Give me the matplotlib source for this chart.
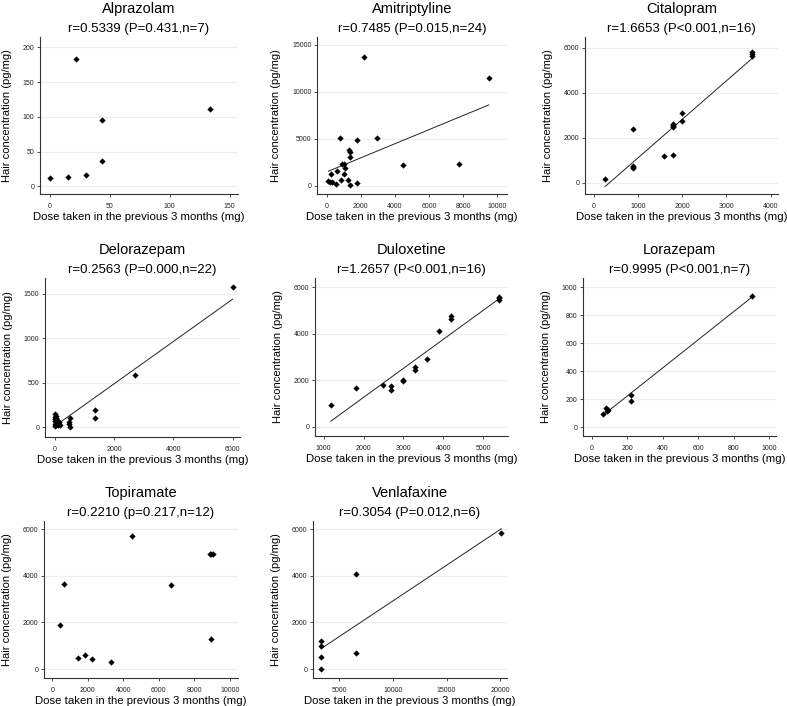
import numpy as np
import matplotlib
matplotlib.use("Agg")
import matplotlib.pyplot as plt

plt.rcParams['font.family'] = ['Liberation Sans', 'DejaVu Sans']

# ---------------- data ----------------
drugs = ["Alprazolam", "Amitriptyline", "Citalopram", "Delorazepam",
         "Duloxetine", "Lorazepam", "Topiramate", "Venlafaxine"]
subtitles = ["r=0.5339 (P=0.431,n=7)", "r=0.7485 (P=0.015,n=24)",
             "r=1.6653 (P<0.001,n=16)", "r=0.2563 (P=0.000,n=22)",
             "r=1.2657 (P<0.001,n=16)", "r=0.9995 (P<0.001,n=7)",
             "r=0.2210 (p=0.217,n=12)", "r=0.3054 (P=0.012,n=6)"]

alprazolam_dose = [0, 15, 22, 30, 44, 44, 134]
alprazolam_conc = [12, 14, 184, 16, 95, 36, 112]

amitriptyline_dose = [2180, 9500, 750, 2970, 1800, 1330, 1360, 1370, 900, 1000,
                      620, 250, 1000, 840, 1230, 100, 200, 300, 550, 1370,
                      1760, 4450, 7730, 1050]
amitriptyline_conc = [13650, 11420, 5100, 5100, 4850, 3800, 3550, 3000, 2250, 2250,
                      1600, 1280, 1250, 620, 620, 440, 370, 420, 150, 70,
                      260, 2190, 2300, 1850]

citalopram_dose = [3580, 3580, 3580, 1990, 1990, 1800, 1800, 1800, 1800,
                   1600, 1800, 890, 890, 890, 890, 260]
citalopram_conc = [5800, 5720, 5640, 3100, 2740, 2630, 2580, 2520, 2460,
                   1180, 1220, 2380, 740, 700, 660, 170]

delorazepam_dose = [6000, 2700, 1340, 1340, 500, 500, 480, 460, 0, 0, 0,
                    0, 0, 0, 30, 60, 110, 170, 40, 20, 90, 130]
delorazepam_conc = [1580, 585, 190, 105, 100, 0, 60, 40, 150, 120, 95,
                    65, 40, 10, 130, 80, 50, 25, 100, 20, 30, 60]

duloxetine_dose = [1180, 1800, 2490, 2700, 2700, 3000, 3000, 3300, 3300,
                   3600, 3900, 4200, 4200, 5400, 5400, 5400]
duloxetine_conc = [930, 1680, 1800, 1770, 1570, 2000, 1960, 2580, 2460,
                   2900, 4130, 4750, 4640, 5600, 5520, 5460]

lorazepam_dose = [900, 220, 220, 80, 88, 62, 84]
lorazepam_conc = [940, 230, 190, 135, 125, 95, 115]

topiramate_dose = [410, 680, 1470, 1840, 2240, 3330, 4480, 6700, 8900, 8950, 9050, 8960]
topiramate_conc = [1890, 3650, 470, 600, 440, 310, 5700, 3620, 4950, 4950, 4950, 1300]

venlafaxine_dose = [3300, 3300, 3300, 3300, 6600, 6600, 20100]
venlafaxine_conc = [1200, 1010, 500, 10, 4060, 680, 5830]

doses = [alprazolam_dose, amitriptyline_dose, citalopram_dose, delorazepam_dose,
         duloxetine_dose, lorazepam_dose, topiramate_dose, venlafaxine_dose]
concs = [alprazolam_conc, amitriptyline_conc, citalopram_conc, delorazepam_conc,
         duloxetine_conc, lorazepam_conc, topiramate_conc, venlafaxine_conc]
has_fit = [False, True, True, True, True, True, False, True]

x_ticks = [[0, 50, 100, 150], list(range(0, 10001, 2000)), list(range(0, 4001, 1000)),
           [0, 2000, 4000, 6000], list(range(1000, 5001, 1000)), list(range(0, 1001, 200)),
           list(range(0, 10001, 2000)), [5000, 10000, 15000, 20000]]
y_ticks = [[0, 50, 100, 150, 200], [0, 5000, 10000, 15000], [0, 2000, 4000, 6000],
           [0, 500, 1000, 1500], [0, 2000, 4000, 6000], list(range(0, 1001, 200)),
           [0, 2000, 4000, 6000], [0, 2000, 4000, 6000]]

# ---------------- layout ----------------
W, H = 787, 706
# (left, right, top, bottom) in pixels
boxes = [(40, 238, 37, 194), (317, 507, 37, 194), (585, 778, 37, 194),
         (45, 240, 278, 437), (315, 508, 278, 436), (583, 776, 278, 436),
         (44, 238, 521, 678), (313, 507, 521, 678)]
xlims = [(-8, 157), (-569, 10568), (-194, 4163), (-338, 6249),
         (785, 5618), (-51, 1038), (-470, 10470), (2548, 20630)]
ylims = [(-11, 215), (-891, 15800), (-495, 6480), (-110, 1679),
         (-387, 6400), (-62, 1067), (-385, 6355), (-385, 6355)]

grid_color = '#e8f0f1'

fig = plt.figure(figsize=(W / 100, H / 100), dpi=100)
for i in range(8):
    l, r, t, b = boxes[i]
    ax = fig.add_axes([l / W, 1 - b / H, (r - l) / W, (b - t) / H])
    x = np.array(doses[i], dtype=float)
    y = np.array(concs[i], dtype=float)
    ax.set_xlim(*xlims[i])
    ax.set_ylim(*ylims[i])
    ax.set_xticks(x_ticks[i])
    ax.set_yticks(y_ticks[i])
    for yt in y_ticks[i]:
        ax.axhline(yt, color=grid_color, lw=0.9, zorder=0)
    if has_fit[i]:
        slope, icpt = np.polyfit(x, y, 1)
        xs = np.array([x.min(), x.max()])
        ax.plot(xs, slope * xs + icpt, color='#222222', lw=0.7, zorder=2)
    ax.plot(x, y, linestyle='none', marker='D', ms=3.2, color='black',
            markeredgewidth=0, zorder=3)
    for s in ['top', 'right']:
        ax.spines[s].set_visible(False)
    for s in ['left', 'bottom']:
        ax.spines[s].set_linewidth(0.8)
        ax.spines[s].set_color('#333333')
    ax.tick_params(axis='both', labelsize=5, length=2.5, width=0.6,
                   colors='#333333', labelcolor='#222222')
    ax.tick_params(axis='x', pad=4)
    ax.tick_params(axis='y', pad=1.5)
    ax.set_xlabel("Dose taken in the previous 3 months (mg)", fontsize=8.2, labelpad=1.5)
    ax.set_ylabel("Hair concentration (pg/mg)", fontsize=8.0, labelpad=8)
    ax.annotate(drugs[i], xy=(0.5, 1), xycoords='axes fraction', xytext=(0, 24),
                textcoords='offset pixels', ha='center', va='baseline', fontsize=10.5)
    ax.annotate(subtitles[i], xy=(0.5, 1), xycoords='axes fraction', xytext=(0, 5),
                textcoords='offset pixels', ha='center', va='baseline', fontsize=9.5)

fig.savefig("out.png", dpi=100)
